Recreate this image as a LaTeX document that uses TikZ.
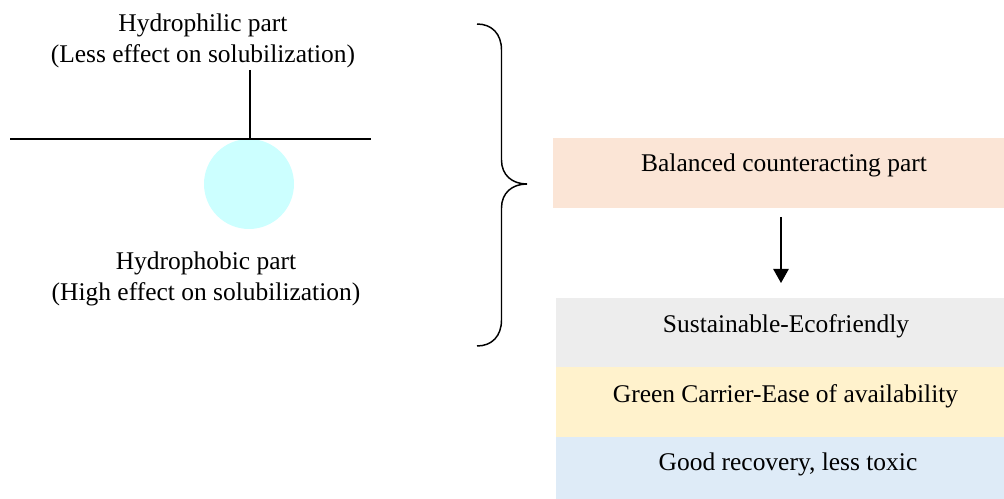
\documentclass[tikz,border=0pt]{standalone}
\usepackage{fontspec}
\setmainfont{Liberation Serif}
\usetikzlibrary{arrows.meta}
\definecolor{peach}{HTML}{FBE5D6}
\definecolor{greybox}{HTML}{EDEDED}
\definecolor{yellowbox}{HTML}{FFF2CC}
\definecolor{bluebox}{HTML}{DEEBF7}
\definecolor{headcyan}{HTML}{CCFFFF}
\tikzset{
  txt/.style={inner sep=0pt, font=\fontsize{19.1pt}{22.8pt}\selectfont, align=center},
  band/.style={draw=none, inner sep=0pt, minimum width=#1},
  ln/.style={line width=1.1pt, black},
  arr/.style={line width=1.1pt, -{Triangle[width=11.5pt,length=10.5pt]}}
}
\begin{document}
\begin{tikzpicture}[x=0.75pt,y=-0.75pt]
\useasboundingbox (0,0) rectangle (1004,499);
% left: surfactant sketch
\node[circle, fill=headcyan, minimum size=67.5pt, inner sep=0pt] (head) at (249,184) {};
\coordinate (lineL) at (10,139);
\coordinate (lineR) at (371,139);
\coordinate (stemTop) at (250,70);
\coordinate (stemBot) at (250,139);
\draw[ln] (lineL) -- (lineR);
\draw[ln] (stemTop) -- (stemBot);
\node[txt] (philic) at (203,41) {Hydrophilic part\\(Less effect on solubilization)};
\node[txt] (phobic) at (206,279) {Hydrophobic part\\(High effect on solubilization)};
% brace
\draw[ln] (477,24) .. controls (492,24) and (501.5,34) .. (501.5,50)
  -- (501.5,160) .. controls (501.5,175) and (512,184) .. (527,184)
  .. controls (512,184) and (501.5,193) .. (501.5,208)
  -- (501.5,320) .. controls (501.5,336) and (492,346) .. (477,346);
% right boxes
\node[band=338.25pt, minimum height=52.5pt, fill=peach] (bal) at (778.5,173) {};
\node[band=336pt, minimum height=51.75pt, fill=greybox] (sus) at (780,332.5) {};
\node[band=336pt, minimum height=52.5pt, fill=yellowbox] (grn) at (780,402) {};
\node[band=336pt, minimum height=46.5pt, fill=bluebox] (good) at (780,468) {};
\node[txt, anchor=base] (balT) at (784,172) {Balanced counteracting part};
\node[txt, anchor=base] (susT) at (786,332) {Sustainable-Ecofriendly};
\node[txt, anchor=base] (grnT) at (785.5,402) {Green Carrier-Ease of availability};
\node[txt, anchor=base] (goodT) at (788,470) {Good recovery, less toxic};
\coordinate (a1) at (781,217);
\coordinate (a2) at (781,283);
\draw[arr] (a1) -- (a2);
\end{tikzpicture}
\end{document}
